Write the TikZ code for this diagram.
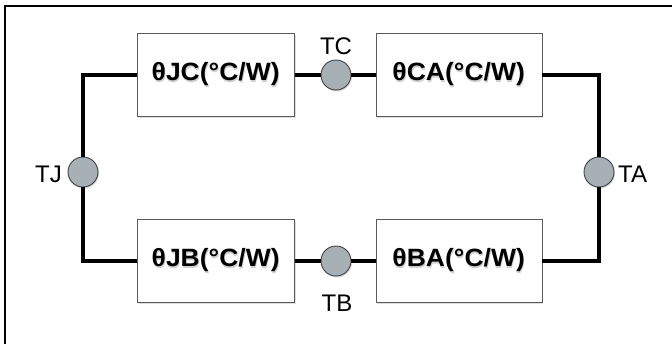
\documentclass[tikz,border=0pt]{standalone}
\usepackage{fontspec}
\setmainfont{Liberation Sans}
\usetikzlibrary{shadows}
\definecolor{nodegray}{HTML}{A7B0B5}
\definecolor{boxline}{HTML}{5A5A5A}
\tikzset{
  res/.style={draw=boxline, line width=0.9pt, fill=white, minimum height=82pt, inner sep=0pt,
    drop shadow={shadow xshift=1pt, shadow yshift=-1.5pt, opacity=0.25}},
  tnode/.style={circle, draw=black!75, line width=0.9pt, fill=nodegray, minimum size=30pt, inner sep=0pt,
    drop shadow={shadow xshift=1pt, shadow yshift=-1.5pt, opacity=0.3}},
  wire/.style={line width=3.2pt, line join=miter},
  lbl/.style={font=\fontsize{24}{26}\selectfont, inner sep=0pt},
  rtxt/.style={font=\bfseries\fontsize{25}{27}\selectfont, inner sep=0pt, xscale=1.06}
}
\newcommand{\restext}[1]{\tikz[baseline=(t.base)]{\node[rtxt, text=black!30, opacity=0.6] at (0.7pt,-1.3pt) {#1}; \node[rtxt] (t) at (0,0) {#1};}}
\begin{document}
\begin{tikzpicture}[x=1pt, y=-1pt]
\useasboundingbox (0,0) rectangle (672,343);
% frame (top and left edges)
\coordinate (f0) at (5,343.5);
\coordinate (f1) at (5,6);
\coordinate (f2) at (672.5,6);
\draw[line width=2.8pt] (f0) -- (f1) -- (f2);
% resistors
\node[res, minimum width=148pt] (jc) at (216,75) {\restext{θJC(°C/W)}};
\node[res, minimum width=156pt] (ca) at (459,75) {\restext{θCA(°C/W)}};
\node[res, minimum width=148pt] (jb) at (216,261) {\restext{θJB(°C/W)}};
\node[res, minimum width=156pt] (ba) at (459,261) {\restext{θBA(°C/W)}};
% temperature nodes
\node[tnode] (tj) at (83,172) {};
\node[tnode] (tc) at (336,75) {};
\node[tnode] (tb) at (336,261) {};
\node[tnode] (ta) at (599,172) {};
% labels
\node[lbl, anchor=east] (ltj) at (62,174) {TJ};
\node[lbl, anchor=south] (ltc) at (336,55) {TC};
\node[lbl, anchor=north] (ltb) at (337,295) {TB};
\node[lbl, anchor=west] (lta) at (618,174) {TA};
% corners
\coordinate (c1) at (83,75);
\coordinate (c2) at (83,261);
\coordinate (c3) at (599,75);
\coordinate (c4) at (599,261);
% wires
\draw[wire] (jc.west) -- (c1) -- (tj.north);
\draw[wire] (tj.south) -- (c2) -- (jb.west);
\draw[wire] (jc.east) -- (tc.west);
\draw[wire] (tc.east) -- (ca.west);
\draw[wire] (ca.east) -- (c3) -- (ta.north);
\draw[wire] (ta.south) -- (c4) -- (ba.east);
\draw[wire] (ba.west) -- (tb.east);
\draw[wire] (tb.west) -- (jb.east);
\end{tikzpicture}
\end{document}
